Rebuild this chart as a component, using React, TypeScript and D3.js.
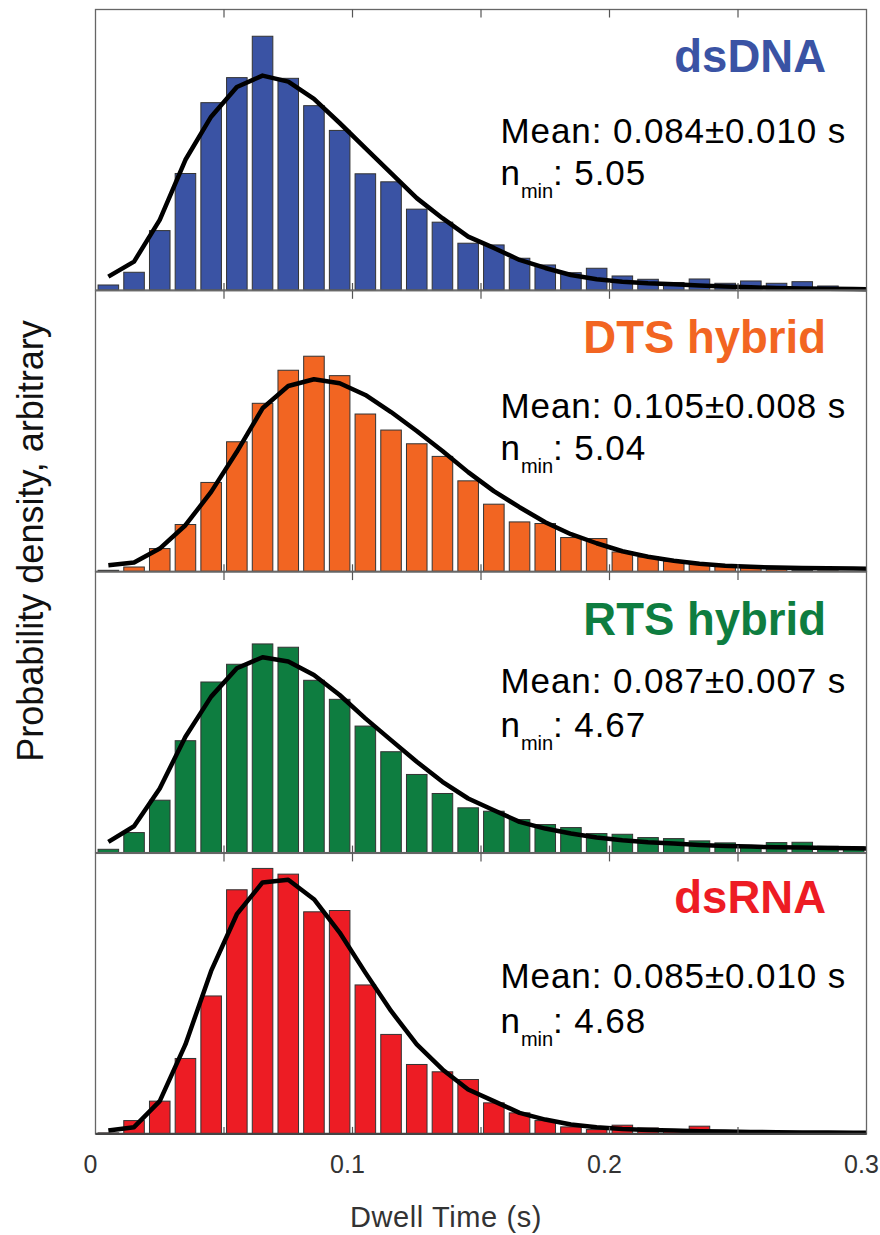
import React from 'react';
import * as d3 from 'd3';

// ---------- data ----------
const binCenters = [
  0.005, 0.015, 0.025, 0.035, 0.045, 0.055, 0.065, 0.075, 0.085, 0.095,
  0.105, 0.115, 0.125, 0.135, 0.145, 0.155, 0.165, 0.175, 0.185, 0.195,
  0.205, 0.215, 0.225, 0.235, 0.245, 0.255, 0.265, 0.275, 0.285, 0.295,
];
const fitTimes = [...binCenters, 0.3];

const panelNames = ['dsDNA', 'DTS hybrid', 'RTS hybrid', 'dsRNA'];
const panelColors = ['#3A53A4', '#F26522', '#0E7D40', '#ED1C24'];
const meanLabels = ['0.084±0.010', '0.105±0.008', '0.087±0.007', '0.085±0.010'];
const nminLabels = ['5.05', '5.04', '4.67', '4.68'];

const dsDNABars = [5, 17.7, 59.3, 116.3, 187, 212, 253.3, 211.3, 184, 159.3, 116, 108, 80.7, 67.7, 46.7, 45, 31.7, 25, 17.3, 21.7, 14, 10.7, 7.5, 11, 6.7, 9, 6.7, 8.3, 4, 2];
const dsDNAFit = [13.3, 28.3, 70, 130, 173, 202.7, 214, 208, 190.7, 166.7, 141.7, 116.7, 91.7, 71.7, 53.3, 42, 30, 22, 15, 10.7, 8.3, 6.7, 5.7, 4.5, 3.5, 2.7, 2, 1.5, 1.2, 0.9, 0.8];

const dtsBars = [1, 4.3, 22.7, 46.7, 88.7, 129.3, 167.7, 200.7, 214.7, 195.3, 157, 141, 127.3, 114.7, 90.3, 67, 49.3, 47.7, 33.7, 32.7, 19.3, 14.3, 10, 7.7, 5, 3.3, 2, 1, 0.5, 0];
const dtsFit = [6, 8.7, 22.7, 46, 79.3, 119.3, 162.7, 185, 191.7, 187.7, 176, 159, 140, 120, 99, 80, 64, 49, 37, 28, 20, 14.5, 10.5, 7.5, 5.5, 4.5, 3.7, 3.3, 3, 2.7, 2.6];

const rtsBars = [3.3, 20, 52.3, 111.7, 170.3, 188, 208.3, 205, 172, 153, 126.3, 100.7, 78, 59, 44.7, 41.3, 33, 28, 25, 19, 18.3, 15, 14, 11.7, 9.7, 6.3, 10, 10.3, 6.3, 5.7];
const rtsFit = [10.7, 26.3, 64, 115.7, 155.7, 184, 195, 190.7, 177.3, 157.3, 134, 112.3, 90.7, 70.7, 54, 42.3, 30.7, 24, 19, 15, 12.3, 10.3, 9, 7.7, 6.7, 6, 5.3, 5, 4.7, 4.3, 4.2];

const dsRNABars = [1, 13.3, 32.7, 75.3, 137.7, 243.7, 265, 259.3, 221.7, 223, 148.7, 99.3, 69.3, 62, 54.3, 31, 21, 13.3, 7, 4.3, 8.7, 6, 3.3, 7.7, 2.7, 1.7, 1, 0.7, 0.3, 0.3];
const dsRNAFit = [3.3, 6.7, 32.7, 89.3, 162.7, 219.3, 251, 253.7, 234.3, 201, 161, 122.7, 89.3, 64.3, 44.3, 32.7, 21, 14.3, 9.3, 6.7, 5, 4, 3.3, 2.7, 2.3, 2, 1.7, 1.5, 1.3, 1.2, 1.1];

const panelBars = [dsDNABars, dtsBars, rtsBars, dsRNABars];
const panelFits = [dsDNAFit, dtsFit, rtsFit, dsRNAFit];

const xTickLabels = [0, 0.1, 0.2, 0.3];
const innerTicks = [0.05, 0.1, 0.15, 0.2, 0.25];
const yMax = 280;

// ---------- layout ----------
const W = 880;
const H = 1235;
const plotLeft = 95.5;
const plotRight = 866.5;
const firstTop = 9.5;
const panelStep = 281.3;
const panelH = 280.5;
const titleDy = [62, 62.5, 63, 60];
const meanDy = [133, 127, 121, 134.5];
const nminDy = [175.5, 169.5, 165, 179.5];
const FONT = '"Liberation Sans", Arial, Helvetica, sans-serif';

export default function App() {
  const x = d3.scaleLinear().domain([0, 0.3]).range([plotLeft, plotRight]);
  const halfBar = 0.004;

  return (
    <svg
      width={W}
      height={H}
      viewBox={`0 0 ${W} ${H}`}
      style={{ position: 'absolute', left: 0, top: 0, background: '#fff' }}
      fontFamily={FONT}
    >
      <rect x={0} y={0} width={W} height={H} fill="#fff" />
      <defs>
        {panelNames.map((_, i) => {
          const top = firstTop + i * panelStep;
          return (
            <clipPath id={`clip${i}`} key={i}>
              <rect x={plotLeft} y={top} width={plotRight - plotLeft} height={panelH + 3} />
            </clipPath>
          );
        })}
      </defs>
      {panelNames.map((name, i) => {
        const top = firstTop + i * panelStep;
        const bottom = top + panelH;
        const y = d3.scaleLinear().domain([0, yMax]).range([bottom, top]);
        const line = d3
          .line<number>()
          .x((_, k) => x(fitTimes[k]))
          .y((d) => y(d))
          .curve(d3.curveLinear);
        const bars = panelBars[i];
        return (
          <g key={name}>
            {binCenters.map((c, k) =>
              bars[k] > 0 ? (
                <rect
                  key={k}
                  x={x(c - halfBar)}
                  y={y(bars[k])}
                  width={x(c + halfBar) - x(c - halfBar)}
                  height={bottom - y(bars[k])}
                  fill={panelColors[i]}
                  stroke="#333"
                  strokeWidth={1}
                />
              ) : null
            )}
            <path
              d={line(panelFits[i]) || ''}
              fill="none"
              stroke="#000"
              strokeWidth={4.5}
              strokeLinejoin="round"
              clipPath={`url(#clip${i})`}
            />
            <rect
              x={plotLeft}
              y={top}
              width={plotRight - plotLeft}
              height={panelH}
              fill="none"
              stroke="#666"
              strokeWidth={1.3}
            />
            {innerTicks.map((t) => (
              <g key={t}>
                <line x1={x(t)} x2={x(t)} y1={top} y2={top + 8} stroke="#555" strokeWidth={1.2} />
                <line x1={x(t)} x2={x(t)} y1={bottom} y2={bottom - 7} stroke="#555" strokeWidth={1.2} />
              </g>
            ))}
            <text
              x={826}
              y={top + titleDy[i]}
              textAnchor="end"
              fontSize={45.5}
              fontWeight="bold"
              fill={panelColors[i]}
            >
              {name}
            </text>
            <text x={500.5} y={top + meanDy[i]} fontSize={35} letterSpacing={0.9} fill="#000">
              {`Mean: ${meanLabels[i]} s`}
            </text>
            <text x={500.5} y={top + nminDy[i]} fontSize={35} letterSpacing={0.9} fill="#000">
              <tspan>n</tspan>
              <tspan dy={13} fontSize={20} letterSpacing={0}>min</tspan>
              <tspan dy={-13}>{`: ${nminLabels[i]}`}</tspan>
            </text>
          </g>
        );
      })}
      {/* bottom axis line */}
      <line
        x1={plotLeft}
        x2={plotRight}
        y1={firstTop + 3 * panelStep + panelH}
        y2={firstTop + 3 * panelStep + panelH}
        stroke="#444"
        strokeWidth={2.2}
      />
      {xTickLabels.map((t) => (
        <text key={t} x={x(t) - 5} y={1173} textAnchor="middle" fontSize={25} fill="#333">
          {String(t)}
        </text>
      ))}
      <text x={446} y={1226.5} textAnchor="middle" fontSize={29} letterSpacing={0.6} fill="#333">
        Dwell Time (s)
      </text>
      <text
        transform="translate(43,541) rotate(-90)"
        textAnchor="middle"
        fontSize={36}
        fill="#111"
      >
        Probability density, arbitrary
      </text>
    </svg>
  );
}
